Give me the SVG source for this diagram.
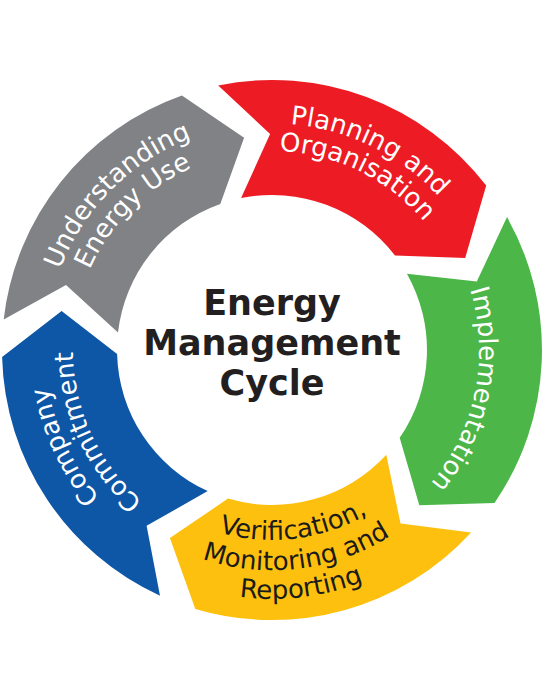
<svg xmlns="http://www.w3.org/2000/svg" xmlns:xlink="http://www.w3.org/1999/xlink" width="544" height="700" viewBox="0 0 544 700">
  <style>
    .seg-label { font-family: "DejaVu Sans", Verdana, sans-serif; font-size: 26px; fill: #ffffff; }
    .dark { fill: #1b1b1b; }
    .title { font-family: "DejaVu Sans", Verdana, sans-serif; font-size: 35px; font-weight: bold; fill: #231f20; text-anchor: middle; }
  </style>
  <defs>
    <path id="cw227" d="M -223.5 -39.4 A 227 227 0 0 1 223.5 -39.4"/>
    <path id="cw199" d="M -196.0 -34.5 A 199 199 0 0 1 196.0 -34.5"/>
    <path id="cw207" d="M -203.9 -35.9 A 207 207 0 0 1 203.9 -35.9"/>
    <path id="ccw190" d="M -187.1 33.0 A 190 190 0 0 0 187.1 33.0"/>
    <path id="ccw220" d="M -216.7 38.2 A 220 220 0 0 0 216.7 38.2"/>
    <path id="ccw249" d="M -245.2 43.2 A 249 249 0 0 0 245.2 43.2"/>
  </defs>
  <rect width="544" height="700" fill="#ffffff"/>

  <g id="understanding-energy-use">
    <path d="M 3.7 319.4 A 270 270 0 0 1 181.9 95.5 L 244.1 137.8 L 220.3 203.9 A 155 155 0 0 0 118.0 332.5 L 66.0 285.0 Z" fill="#808285"/>
    <text class="seg-label" transform="translate(272,350) rotate(-45)" text-anchor="middle"><textPath xlink:href="#cw227" href="#cw227" startOffset="50%">Understanding</textPath></text>
    <text class="seg-label" transform="translate(272,350) rotate(-45)" text-anchor="middle"><textPath xlink:href="#cw199" href="#cw199" startOffset="50%">Energy Use</textPath></text>
  </g>

  <g id="planning-and-organisation">
    <path d="M 218.2 85.4 A 270 270 0 0 1 486.2 185.6 L 465.2 257.9 L 395.0 255.6 A 155 155 0 0 0 241.1 198.1 L 270.1 134.0 Z" fill="#ed1c24"/>
    <text class="seg-label" transform="translate(272,350) rotate(26)" text-anchor="middle"><textPath xlink:href="#cw227" href="#cw227" startOffset="50%">Planning and</textPath></text>
    <text class="seg-label" transform="translate(272,350) rotate(26)" text-anchor="middle"><textPath xlink:href="#cw199" href="#cw199" startOffset="50%">Organisation</textPath></text>
  </g>

  <g id="implementation">
    <path d="M 507.0 217.1 A 270 270 0 0 1 494.5 502.9 L 419.3 505.2 L 399.7 437.8 A 155 155 0 0 0 406.9 273.7 L 476.8 281.5 Z" fill="#4cb648"/>
    <text class="seg-label" transform="translate(272,350) rotate(101.5)" text-anchor="middle"><textPath xlink:href="#cw207" href="#cw207" startOffset="50%">Implementation</textPath></text>
  </g>

  <g id="verification-monitoring-reporting">
    <path d="M 471.1 532.4 A 270 270 0 0 1 195.3 608.9 L 169.9 538.1 L 228.0 498.6 A 155 155 0 0 0 386.3 454.7 L 400.5 523.6 Z" fill="#fdc00f"/>
    <text class="seg-label dark" transform="translate(272,350) rotate(-7)" text-anchor="middle"><textPath xlink:href="#ccw190" href="#ccw190" startOffset="50%">Verification,</textPath></text>
    <text class="seg-label dark" transform="translate(272,350) rotate(-7)" text-anchor="middle"><textPath xlink:href="#ccw220" href="#ccw220" startOffset="50%">Monitoring and</textPath></text>
    <text class="seg-label dark" transform="translate(272,350) rotate(-7)" text-anchor="middle"><textPath xlink:href="#ccw249" href="#ccw249" startOffset="50%">Reporting</textPath></text>
  </g>

  <g id="company-commitment">
    <path d="M 160.0 595.7 A 270 270 0 0 1 2.1 357.1 L 61.6 311.0 L 117.1 354.1 A 155 155 0 0 0 207.7 491.1 L 146.6 525.8 Z" fill="#0e56a6"/>
    <text class="seg-label" transform="translate(272,350) rotate(245)" text-anchor="middle"><textPath xlink:href="#cw227" href="#cw227" startOffset="50%">Company</textPath></text>
    <text class="seg-label" transform="translate(272,350) rotate(245)" text-anchor="middle"><textPath xlink:href="#cw199" href="#cw199" startOffset="50%">Commitment</textPath></text>
  </g>

  <g id="center-title">
    <text class="title" x="272" y="315">Energy</text>
    <text class="title" x="272" y="355">Management</text>
    <text class="title" x="272" y="395">Cycle</text>
  </g>
</svg>
